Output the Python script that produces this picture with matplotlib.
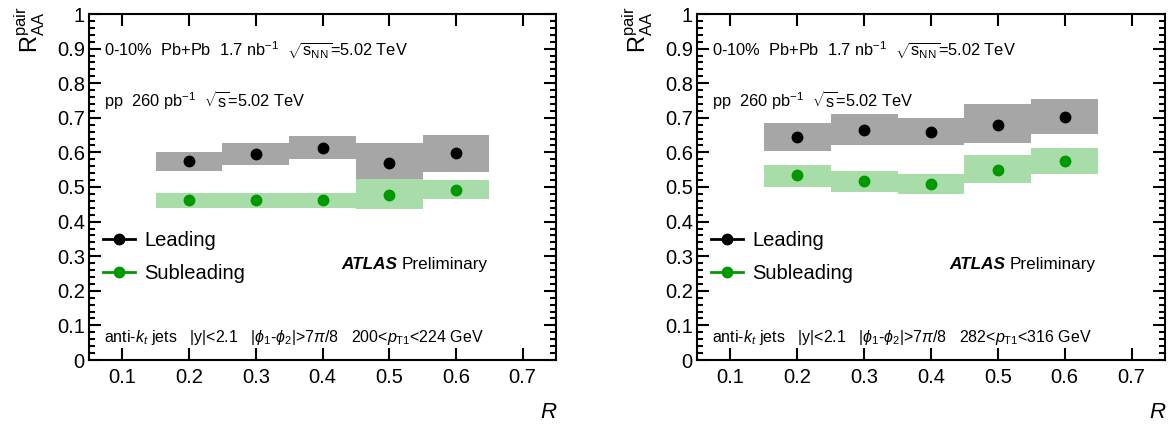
import numpy as np
import matplotlib
matplotlib.use("Agg")
from matplotlib import pyplot as plt
from matplotlib.lines import Line2D
from matplotlib.ticker import MultipleLocator, FuncFormatter

# Fonts: Helvetica-like look, also inside mathtext.
plt.rcParams['font.family'] = ['Liberation Sans', 'DejaVu Sans']
plt.rcParams['mathtext.fontset'] = 'custom'
plt.rcParams['mathtext.rm'] = 'Liberation Sans'
plt.rcParams['mathtext.it'] = 'Liberation Sans:italic'
plt.rcParams['mathtext.bf'] = 'Liberation Sans:bold'


# Jet radius values (bin centres).
R = [0.2, 0.3, 0.4, 0.5, 0.6]

# Left panel: 200 < pT1 < 224 GeV.
leadL    = [0.576, 0.594, 0.612, 0.570, 0.597]
leadL_lo = [0.547, 0.564, 0.581, 0.524, 0.544]
leadL_hi = [0.602, 0.626, 0.646, 0.626, 0.649]
subL     = [0.461, 0.461, 0.461, 0.478, 0.492]
subL_lo  = [0.438, 0.438, 0.438, 0.435, 0.464]
subL_hi  = [0.483, 0.483, 0.483, 0.522, 0.519]

# Right panel: 282 < pT1 < 316 GeV.
leadR    = [0.644, 0.664, 0.659, 0.679, 0.703]
leadR_lo = [0.603, 0.620, 0.622, 0.627, 0.652]
leadR_hi = [0.686, 0.711, 0.699, 0.739, 0.755]
subR     = [0.534, 0.518, 0.508, 0.548, 0.576]
subR_lo  = [0.501, 0.485, 0.479, 0.511, 0.537]
subR_hi  = [0.564, 0.547, 0.538, 0.593, 0.614]

ptLabels = ['200<$p_{\\mathrm{T1}}$<224 GeV', '282<$p_{\\mathrm{T1}}$<316 GeV']


# Colours.
grayBox  = '#a6a6a6'
greenBox = '#a8dca8'
green    = '#009900'


# Function that draws one panel.
def DrawPanel(ax, lead, lead_lo, lead_hi, sub, sub_lo, sub_hi, ptText):

    # Systematic boxes, one bin of width 0.1 around each R.
    ax.bar(R, np.array(lead_hi) - np.array(lead_lo), bottom=lead_lo,
           width=0.1, color=grayBox, linewidth=0)
    ax.bar(R, np.array(sub_hi) - np.array(sub_lo), bottom=sub_lo,
           width=0.1, color=greenBox, linewidth=0)

    # Points.
    ax.plot(R, lead, 'o', color='black', markersize=7.5)
    ax.plot(R, sub, 'o', color=green, markersize=7.5)

    # Axes ranges and ticks.
    ax.set_xlim(0.05, 0.75)
    ax.set_ylim(0, 1)
    ax.xaxis.set_major_locator(MultipleLocator(0.1))
    ax.yaxis.set_major_locator(MultipleLocator(0.1))
    ax.yaxis.set_minor_locator(MultipleLocator(0.02))
    ax.xaxis.set_major_formatter(FuncFormatter(lambda v, p: f'{v:g}'))
    ax.yaxis.set_major_formatter(FuncFormatter(lambda v, p: f'{v:g}'))
    ax.tick_params(which='both', direction='in', top=True, right=True,
                   width=1.5, labelsize=14.5)
    ax.tick_params(which='major', length=8.5)
    ax.tick_params(which='minor', length=4.3)
    ax.tick_params(axis='x', pad=6)
    ax.tick_params(axis='y', pad=3)
    for s in ax.spines.values():
        s.set_linewidth(1.5)

    # x-axis title, ROOT style at the right end.
    ax.text(1.0, -0.153, 'R', transform=ax.transAxes, ha='right', va='center',
            fontsize=16, style='italic')

    # Annotations.
    ax.text(0.032, 0.896,
            '0-10%  Pb+Pb  1.7 nb$^{\\mathrm{-1}}$  $\\sqrt{\\mathrm{s}_{\\mathrm{NN}}}$=5.02 TeV',
            transform=ax.transAxes, fontsize=11.8, va='center')
    ax.text(0.032, 0.751,
            'pp  260 pb$^{\\mathrm{-1}}$  $\\sqrt{\\mathrm{s}}$=5.02 TeV',
            transform=ax.transAxes, fontsize=11.8, va='center')
    ax.text(0.032, 0.066,
            'anti-$k_t$ jets   |y|<2.1   |$\\phi_1$-$\\phi_2$|>7$\\pi$/8   ' + ptText,
            transform=ax.transAxes, fontsize=11.5, va='center')

    atlas = ax.text(0.54, 0.275, 'ATLAS', transform=ax.transAxes,
                    fontsize=12.3, weight='bold', style='italic', va='center')
    ax.annotate('Preliminary', xy=(1, 0.5), xycoords=atlas,
                xytext=(3, 0), textcoords='offset points',
                fontsize=12.3, va='center')

    # Legend.
    handles = [Line2D([], [], color='black', marker='o', markersize=7.5, linewidth=2),
               Line2D([], [], color=green, marker='o', markersize=7.5, linewidth=2)]
    ax.legend(handles, ['Leading', 'Subleading'], loc='center left',
              bbox_to_anchor=(0.0, 0.298), frameon=False, fontsize=14.5,
              handlelength=1.6, handletextpad=0.45, labelspacing=0.7,
              borderaxespad=0.3)


fig = plt.figure(figsize=(11.75, 4.28), dpi=100)
axL = fig.add_axes([89/1175, 68/428, 467/1175, 346/428])
axR = fig.add_axes([697/1175, 68/428, 468/1175, 346/428])

DrawPanel(axL, leadL, leadL_lo, leadL_hi, subL, subL_lo, subL_hi, ptLabels[0])
DrawPanel(axR, leadR, leadR_lo, leadR_hi, subR, subR_lo, subR_hi, ptLabels[1])

# y-axis titles, aligned at the top of each frame.
yTitle = '$\\mathrm{R}_{\\mathrm{AA}}^{\\mathrm{pair}}$'
fig.text(30/1175, 1 - 6/428, yTitle, rotation=90, ha='center', va='top', fontsize=17)
fig.text(638/1175, 1 - 6/428, yTitle, rotation=90, ha='center', va='top', fontsize=17)

fig.savefig('out.png', dpi=100)
